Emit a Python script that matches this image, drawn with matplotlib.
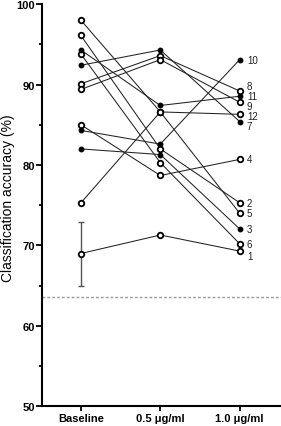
import numpy as np
import matplotlib.pyplot as plt

plt.rcParams['font.family'] = ['Liberation Sans', 'DejaVu Sans']

# conditions on the x axis
conditions = ["Baseline", "0.5 \u03bcg/ml", "1.0 \u03bcg/ml"]

# accuracy (%) of each subject per condition
subjects = ["1", "2", "3", "4", "5", "6", "7", "8", "9", "10", "11", "12"]
baseline = [69.0, 96.1, 82.0, 85.0, 98.0, 93.8, 92.4, 90.1, 89.4, 84.3, 94.3, 75.3]
dose_05 = [71.3, 82.0, 81.3, 78.7, 86.6, 80.3, 94.3, 93.6, 93.1, 82.6, 87.4, 86.6]
dose_10 = [69.3, 75.3, 72.05, 80.7, 74.0, 70.2, 85.4, 89.2, 87.8, 93.1, 88.55, 86.3]
filled = [False, False, True, False, False, False, True, False, False, True, True, False]

# error bar on subject 1 baseline
err_low = 65.0
err_high = 72.9

chance = 63.6

fig = plt.figure(figsize=(2.81, 4.27), dpi=100)
ax = fig.add_axes([0.1495, 0.046, 0.8505, 0.942])

x = np.arange(len(conditions))

# error bar first, behind the markers
ax.errorbar(0, baseline[0], yerr=[[baseline[0] - err_low], [err_high - baseline[0]]],
            fmt='none', ecolor='#555555', elinewidth=1, capsize=2.3, capthick=1, zorder=1)

for i, s in enumerate(subjects):
    vals = [baseline[i], dose_05[i], dose_10[i]]
    ax.plot(x, vals, color='#222222', lw=0.75, zorder=2)
    if filled[i]:
        ax.plot(x, vals, ls='none', marker='o', ms=3.2, mfc='black', mec='black', zorder=3)
    else:
        ax.plot(x, vals, ls='none', marker='o', ms=4.0, mfc='white', mec='black',
                mew=1.3, zorder=3)

# subject labels on the right, nudged apart where they crowd
nudge = {"8": 0.67, "9": -0.5, "12": -0.16, "7": -0.57, "1": -0.57}
for i, s in enumerate(subjects):
    ax.text(2.09, dose_10[i] + nudge.get(s, 0), s, fontsize=7, va='center', ha='left',
            color='#222222')

ax.axhline(chance, color='#999999', lw=1, ls=(0, (2, 1.5)), zorder=0)

ax.set_xlim(-0.49, 2.52)
ax.set_ylim(50, 100)
ax.set_xticks(x)
ax.set_xticklabels(conditions, fontsize=8, fontweight='bold')
ax.set_yticks(np.arange(50, 101, 10))
ax.set_yticks(np.arange(55, 100, 10), minor=True)
ax.tick_params(axis='y', labelsize=8, width=1.3, length=4, pad=1)
ax.tick_params(axis='y', which='minor', width=1.3, length=2.5)
ax.tick_params(axis='x', width=1.3, length=3.5, pad=1.5)
for lab in ax.get_yticklabels():
    lab.set_fontweight('bold')

ax.set_ylabel("Classification accuracy (%)", fontsize=10, va='center')
ax.yaxis.set_label_coords(-0.142, 0.52)

ax.spines['top'].set_visible(False)
ax.spines['right'].set_visible(False)
ax.spines['left'].set_linewidth(1.5)
ax.spines['bottom'].set_linewidth(1.5)

fig.savefig("out.png", dpi=100)
